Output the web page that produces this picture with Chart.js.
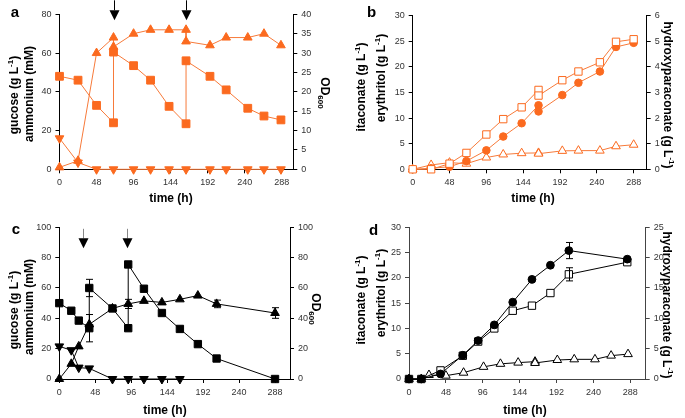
<!DOCTYPE html>
<html>
<head>
<meta charset="utf-8">
<script src="https://cdn.jsdelivr.net/npm/chart.js@4.4.1/dist/chart.umd.min.js"></script>
<style>
body { margin: 0; background: #fff; }
#page { position: relative; width: 685px; height: 418px; font-family: "Liberation Sans", Arial, sans-serif; overflow: hidden; }
canvas { position: absolute; }
.lbl { position: absolute; font-weight: bold; font-size: 12px; line-height: 1; white-space: nowrap; color: #000; transform: translate(-50%, -50%); }
.rotl { transform: translate(-50%, -50%) rotate(-90deg); }
.rotr { transform: translate(-50%, -50%) rotate(90deg); }
.letter { font-size: 15px; }
sup, sub { font-size: 8px; line-height: 0; }
</style>
</head>
<body>
<div id="page">
  <canvas id="chartA" width="345" height="209" style="left:0;top:0"></canvas>
  <canvas id="chartB" width="340" height="209" style="left:345px;top:0"></canvas>
  <canvas id="chartC" width="345" height="209" style="left:0;top:209px"></canvas>
  <canvas id="chartD" width="340" height="209" style="left:345px;top:209px"></canvas>

  <div class="lbl letter" style="left:15px;top:11px">a</div>
  <div class="lbl rotl" style="left:13.5px;top:95px">gucose (g L<sup>-1</sup>)</div>
  <div class="lbl rotl" style="left:28.5px;top:94px">ammonium (mM)</div>
  <div class="lbl rotr" style="left:325px;top:93px">OD<sub>600</sub></div>
  <div class="lbl" style="left:171px;top:198px">time (h)</div>

  <div class="lbl letter" style="left:371.5px;top:11px">b</div>
  <div class="lbl rotl" style="left:361px;top:87px">itaconate (g L<sup>-1</sup>)</div>
  <div class="lbl rotl" style="left:381px;top:78px">erythritol (g L<sup>-1</sup>)</div>
  <div class="lbl rotr" style="left:668px;top:95px">hydroxyparaconate (g L<sup>-1</sup>)</div>
  <div class="lbl" style="left:533px;top:198px">time (h)</div>

  <div class="lbl letter" style="left:16px;top:228px">c</div>
  <div class="lbl rotl" style="left:14px;top:310px">gucose (g L<sup>-1</sup>)</div>
  <div class="lbl rotl" style="left:28.5px;top:307px">ammonium (mM)</div>
  <div class="lbl rotr" style="left:316px;top:309px">OD<sub>600</sub></div>
  <div class="lbl" style="left:165px;top:410px">time (h)</div>

  <div class="lbl letter" style="left:373.5px;top:229px">d</div>
  <div class="lbl rotl" style="left:361px;top:300px">itaconate (g L<sup>-1</sup>)</div>
  <div class="lbl rotl" style="left:381px;top:293px">erythritol (g L<sup>-1</sup>)</div>
  <div class="lbl rotr" style="left:667px;top:305px">hydroxyparaconate (g L<sup>-1</sup>)</div>
  <div class="lbl" style="left:525px;top:410px">time (h)</div>
</div>

<script>
// ---- data ----
var timeTicks = [0, 48, 96, 144, 192, 240, 288];

// panel a
var aTime = [0, 24, 48, 70, 70, 96, 118, 142, 164, 164, 195, 216, 244, 265, 287];
var aGlucose = [48, 46, 33, 24, 60.5, 53.5, 46, 32.5, 23.5, 56, 48, 41, 31.5, 27.5, 25.5];
var aOD = [0.5, 2.2, 30, 34, 31.6, 35, 36, 36, 36, 33, 32, 34, 34, 35, 32];
var aAmmTime = [0, 24, 48, 70, 96, 118, 142, 164, 195, 216, 244, 265, 287];
var aAmmonium = [16, 3.5, 0, 0, 0, 0, 0, 0, 0, 0, 0, 0, 0];
var aArrows = [70, 164];

// panel b
var bTime = [0, 24, 48, 70, 96, 118, 142, 164, 164, 195, 216, 244, 265, 288];
var bErythritol = [0, 0, 1.1, 3.2, 6.8, 9.8, 12.1, 15.5, 14.4, 17.4, 19.1, 20.9, 24.9, 25.4];
var bItaconate = [0, 0.2, 0.5, 1.6, 3.7, 6.4, 9.0, 12.5, 11.3, 14.5, 16.9, 19.1, 23.9, 24.7];
var bHPA = [0, 0.17, 0.26, 0.22, 0.46, 0.58, 0.63, 0.64, 0.61, 0.72, 0.73, 0.73, 0.9, 0.96];

// panel c
var cGluTime = [0, 16, 26, 40, 40, 71, 92, 92, 113, 137, 161, 185, 210, 288];
var cGlucose = [50, 45, 38.5, 33.5, 60, 46.5, 33.5, 75.5, 59.5, 43.5, 33, 23, 13.5, 0];
var cGlucoseErr = [0, 0, 0, 9, 5.7, 0, 0, 0, 0, 0, 0, 0, 0, 0];
var cODTime = [0, 16, 26, 40, 71, 92, 113, 137, 161, 185, 210, 288];
var cOD = [0, 10, 21.5, 36, 46.5, 49.5, 51.5, 50.5, 52.5, 55, 49.5, 43.5];
var cODErr = [0, 0, 0, 0, 0, 3, 0, 0, 0, 0, 2.5, 3.5];
var cAmmTime = [0, 16, 26, 40, 71, 92, 113, 137, 161];
var cAmmonium = [21.5, 19, 7.5, 7, 0, 0, 0, 0, 0];
var cArrows = [32, 91];

// panel d
var dTime = [0, 16, 41, 70, 90, 111, 135, 160, 184, 208, 284];
var dItaconate = [0, 0, 1.0, 4.7, 7.6, 10.7, 15.2, 19.7, 22.5, 25.4, 23.7];
var dItaconateErr = [0, 0, 0, 0, 0, 0, 0, 0, 0, 1.6, 0];
var dErythritol = [0, 0, 1.7, 4.6, 7.4, 10.0, 13.5, 14.5, 17.0, 20.7, 23.1];
var dErythritolErr = [0, 0, 0, 0, 0, 0, 0, 0, 0, 1.3, 0];
var dHPATime = [0, 16, 26, 48, 71, 97, 119, 142, 164, 164, 193, 215, 242, 263, 285];
var dHPA = [0, 0, 0.66, 0.55, 1.04, 2.0, 2.5, 2.7, 2.86, 2.64, 3.13, 3.24, 3.24, 3.85, 4.1];

var ORANGE = '#fb6a1f';
var ORANGE_LINE = '#f77a3a';

function xy(xs, ys) {
	return xs.map(function (x, i) { return {x: x, y: ys[i]}; });
}

function series(xs, ys, axis, style) {
	return {
		data: xy(xs, ys),
		yAxisID: axis,
		showLine: true,
		clip: false,
		borderColor: style.line,
		borderWidth: 1,
		pointStyle: style.shape,
		pointRotation: style.rot || 0,
		pointRadius: style.r,
		pointBackgroundColor: style.fill,
		pointBorderColor: style.edge,
		pointBorderWidth: 1,
		errors: style.err || null
	};
}

// error bars, drawn through the chart's own scales
var errorBars = {
	id: 'errorBars',
	afterDatasetsDraw: function (chart) {
		var ctx = chart.ctx;
		ctx.save();
		ctx.strokeStyle = '#000';
		ctx.lineWidth = 1;
		chart.data.datasets.forEach(function (ds) {
			if (!ds.errors) return;
			var ys = chart.scales[ds.yAxisID];
			ds.data.forEach(function (p, i) {
				var e = ds.errors[i];
				if (!e) return;
				var px = Math.round(chart.scales.x.getPixelForValue(p.x)) + 0.5;
				var top = ys.getPixelForValue(p.y + e);
				var bot = ys.getPixelForValue(p.y - e);
				ctx.beginPath();
				ctx.moveTo(px, top); ctx.lineTo(px, bot);
				ctx.moveTo(px - 3.5, top); ctx.lineTo(px + 3.5, top);
				ctx.moveTo(px - 3.5, bot); ctx.lineTo(px + 3.5, bot);
				ctx.stroke();
			});
		});
		ctx.restore();
	}
};

// feeding arrows above the plot
var arrows = {
	id: 'arrows',
	afterDatasetsDraw: function (chart, args, opts) {
		if (!opts.times) return;
		var ctx = chart.ctx;
		var t = chart.chartArea.top;
		ctx.save();
		opts.times.forEach(function (h) {
			var px = Math.round(chart.scales.x.getPixelForValue(h)) + 0.5;
			ctx.strokeStyle = opts.stem;
			ctx.lineWidth = 1;
			ctx.beginPath();
			ctx.moveTo(px, t + opts.y0);
			ctx.lineTo(px, t + opts.y1);
			ctx.stroke();
			ctx.fillStyle = '#000';
			ctx.beginPath();
			ctx.moveTo(px - 5, t + opts.y1);
			ctx.lineTo(px + 5, t + opts.y1);
			ctx.lineTo(px, t + opts.y2);
			ctx.closePath();
			ctx.fill();
		});
		ctx.restore();
	}
};

function axisStyle(color) {
	return {
		grid: {drawOnChartArea: false, drawTicks: true, tickLength: 4, color: color, lineWidth: 1},
		border: {display: true, color: color, width: 1}
	};
}

function panel(id, g, datasets, y1, y2, arrowOpts) {
	var tickFont = {family: '"Liberation Sans", Arial, sans-serif', size: 9};
	var x = axisStyle(g.axis), l = axisStyle(g.axis), r = axisStyle(g.axis);
	x.type = 'linear'; x.min = 0; x.max = g.xMax;
	x.ticks = {font: tickFont, color: '#333', padding: 4, maxRotation: 0};
	x.afterBuildTicks = function (s) { s.ticks = timeTicks.map(function (v) { return {value: v}; }); };
	x.afterFit = function (s) { s.height = g.h - g.bottom; };
	l.position = 'left'; l.min = 0; l.max = y1.max;
	l.ticks = {font: tickFont, color: '#333', padding: 4, stepSize: y1.step};
	l.afterFit = function (s) { s.width = g.left; };
	r.position = 'right'; r.min = 0; r.max = y2.max;
	r.ticks = {font: tickFont, color: '#333', padding: 4, stepSize: y2.step};
	r.afterFit = function (s) { s.width = g.w - g.right; };

	return new Chart(document.getElementById(id).getContext('2d'), {
		type: 'line',
		data: {datasets: datasets},
		options: {
			responsive: false,
			animation: false,
			layout: {padding: {top: g.top, left: 0, right: 0, bottom: 0}},
			plugins: {legend: {display: false}, tooltip: {enabled: false}, arrows: arrowOpts || {}},
			scales: {x: x, y: l, y2: r}
		},
		plugins: [errorBars, arrows]
	});
}

// panel a
panel('chartA', {w: 345, h: 209, left: 59.5, right: 293.3, top: 14.3, bottom: 169.3, xMax: 303, axis: '#000'}, [
	series(aTime, aGlucose, 'y', {shape: 'rect', r: 5.5, fill: ORANGE, edge: ORANGE, line: ORANGE_LINE}),
	series(aTime, aOD, 'y2', {shape: 'triangle', r: 5, fill: ORANGE, edge: ORANGE, line: ORANGE_LINE}),
	series(aAmmTime, aAmmonium, 'y', {shape: 'triangle', rot: 180, r: 5, fill: ORANGE, edge: ORANGE, line: ORANGE_LINE})
], {max: 80, step: 20}, {max: 40, step: 5}, {times: aArrows, y0: -14, y1: -4, y2: 6, stem: '#000'});

// panel b
panel('chartB', {w: 340, h: 209, left: 67.7, right: 301.7, top: 15.7, bottom: 169.3, xMax: 305, axis: '#000'}, [
	series(bTime, bErythritol, 'y', {shape: 'rect', r: 5.2, fill: '#fff', edge: ORANGE, line: ORANGE_LINE}),
	series(bTime, bItaconate, 'y', {shape: 'circle', r: 3.8, fill: ORANGE, edge: ORANGE, line: ORANGE_LINE}),
	series(bTime, bHPA, 'y2', {shape: 'triangle', r: 5, fill: '#fff', edge: ORANGE, line: ORANGE_LINE})
], {max: 30, step: 5}, {max: 6, step: 1});

// panel c
panel('chartC', {w: 345, h: 209, left: 59.3, right: 290, top: 18.3, bottom: 170, xMax: 308, axis: '#000'}, [
	series(cGluTime, cGlucose, 'y', {shape: 'rect', r: 5.2, fill: '#000', edge: '#000', line: '#000', err: cGlucoseErr}),
	series(cODTime, cOD, 'y2', {shape: 'triangle', r: 5, fill: '#000', edge: '#000', line: '#000', err: cODErr}),
	series(cAmmTime, cAmmonium, 'y', {shape: 'triangle', rot: 180, r: 5, fill: '#000', edge: '#000', line: '#000'})
], {max: 100, step: 20}, {max: 100, step: 20}, {times: cArrows, y0: 1.5, y1: 11, y2: 21, stem: '#888'});

// panel d
panel('chartD', {w: 340, h: 209, left: 64, right: 300.7, top: 18.3, bottom: 170, xMax: 308, axis: '#444'}, [
	series(dTime, dItaconate, 'y', {shape: 'circle', r: 3.9, fill: '#000', edge: '#000', line: '#000', err: dItaconateErr}),
	series(dTime, dErythritol, 'y', {shape: 'rect', r: 5.2, fill: '#fff', edge: '#000', line: '#000', err: dErythritolErr}),
	series(dHPATime, dHPA, 'y2', {shape: 'triangle', r: 5, fill: '#fff', edge: '#000', line: '#000'})
], {max: 30, step: 5}, {max: 25, step: 5});
</script>
</body>
</html>
